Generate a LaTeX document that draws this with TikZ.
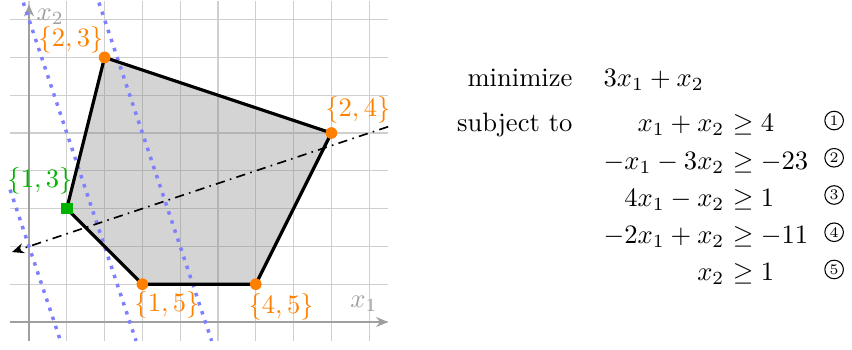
\documentclass[tikz,border=0pt]{standalone}
\usetikzlibrary{arrows.meta}
\begin{document}
\begin{tikzpicture}[x=0.5cm,y=0.5cm,
  gridline/.style={gray!38, line width=0.5pt},
  axisline/.style={gray!75, line width=0.6pt, -{Stealth[length=4.5pt,width=3.8pt]}},
  levelline/.style={blue!50, line width=1.3pt, dash pattern=on 1.3pt off 2.3pt},
  region/.style={fill=gray, fill opacity=0.34},
  edgeline/.style={black, line width=1.2pt, line join=round},
  dirline/.style={black, line width=0.6pt, dash pattern=on 3.5pt off 2pt on 0.6pt off 2pt, -{Stealth[length=4.5pt,width=3.8pt]}},
  vtx/.style={circle, fill=orange, inner sep=0pt, minimum size=4.4pt},
  optv/.style={rectangle, fill=green!70!black, inner sep=0pt, minimum size=4.4pt},
  vlabel/.style={inner sep=0pt, text=orange},
  olabel/.style={inner sep=0pt, text=green!70!black},
  axlabel/.style={inner sep=0pt, text=gray!75},
  txt/.style={inner sep=0pt},
  cnum/.style={circle, draw, line width=0.4pt, inner sep=0pt, minimum size=7pt, font=\fontsize{5.5}{6}\selectfont}
]
\useasboundingbox (-0.767,-0.714) rectangle (21.773,8.519);
% grid
\foreach \i in {0,...,9} \draw[gridline] (\i,-0.5) -- (\i,8.5);
\foreach \j in {0,...,8} \draw[gridline] (-0.5,\j) -- (9.5,\j);
% vertices
\coordinate (A) at (1,3);
\coordinate (B) at (3,1);
\coordinate (C) at (6,1);
\coordinate (D) at (8,5);
\coordinate (E) at (2,7);
% feasible region
\fill[region] (A) -- (B) -- (C) -- (D) -- (E) -- cycle;
% axes
\coordinate (o1) at (-0.5,0);
\coordinate (x1end) at (9.5,0);
\coordinate (o2) at (0,-0.5);
\coordinate (x2end) at (0,8.4);
\draw[axisline] (o1) -- (x1end);
\draw[axisline] (o2) -- (x2end);
\node[axlabel] (lx1) at (8.86,0.48) {$x_1$};
\node[axlabel] (lx2) at (0.56,8.07) {$x_2$};
% level sets of objective
\coordinate (L1a) at (-0.5,3.5);
\coordinate (L1b) at (0.8333,-0.5);
\coordinate (L2a) at (-0.15,8.45);
\coordinate (L2b) at (2.8333,-0.5);
\coordinate (L3a) at (1.85,8.45);
\coordinate (L3b) at (4.8333,-0.5);
\draw[levelline] (L1a) -- (L1b);
\draw[levelline] (L2a) -- (L2b);
\draw[levelline] (L3a) -- (L3b);
% direction line
\coordinate (dA) at (9.5,5.1667);
\coordinate (dB) at (-0.45,1.85);
\draw[dirline] (dA) -- (dB);
% polygon outline
\draw[edgeline] (A) -- (B) -- (C) -- (D) -- (E) -- cycle;
% markers
\node[vtx] (mB) at (B) {};
\node[vtx] (mC) at (C) {};
\node[vtx] (mD) at (D) {};
\node[vtx] (mE) at (E) {};
\node[optv] (mA) at (A) {};
% vertex labels
\node[vlabel] (lE) at (1.11,7.46) {$\{2,3\}$};
\node[vlabel] (lD) at (8.70,5.61) {$\{2,4\}$};
\node[olabel] (lA) at (0.29,3.74) {$\{1,3\}$};
\node[vlabel] (lB) at (3.65,0.45) {$\{1,5\}$};
\node[vlabel] (lC) at (6.67,0.40) {$\{4,5\}$};
% program
\node[txt, anchor=base east] (tmin) at (14.39,6.22) {minimize};
\node[txt, anchor=base west] (tobj) at (15.19,6.22) {$3x_1+x_2$};
\node[txt, anchor=base east] (tst) at (14.39,5.03) {subject to};
\node[txt, anchor=base east] (l1) at (18.41,5.03) {$x_1+x_2$};
\node[txt, anchor=base west] (r1) at (18.41,5.03) {${}\geq 4$};
\node[txt, anchor=base east] (l2) at (18.41,4.045) {$-x_1-3x_2$};
\node[txt, anchor=base west] (r2) at (18.41,4.045) {${}\geq -23$};
\node[txt, anchor=base east] (l3) at (18.41,3.06) {$4x_1-x_2$};
\node[txt, anchor=base west] (r3) at (18.41,3.06) {${}\geq 1$};
\node[txt, anchor=base east] (l4) at (18.41,2.075) {$-2x_1+x_2$};
\node[txt, anchor=base west] (r4) at (18.41,2.075) {${}\geq -11$};
\node[txt, anchor=base east] (l5) at (18.41,1.09) {$x_2$};
\node[txt, anchor=base west] (r5) at (18.41,1.09) {${}\geq 1$};
\node[cnum] (c1) at (21.30,5.33) {1};
\node[cnum] (c2) at (21.30,4.345) {2};
\node[cnum] (c3) at (21.30,3.36) {3};
\node[cnum] (c4) at (21.30,2.375) {4};
\node[cnum] (c5) at (21.30,1.39) {5};
\end{tikzpicture}
\end{document}
